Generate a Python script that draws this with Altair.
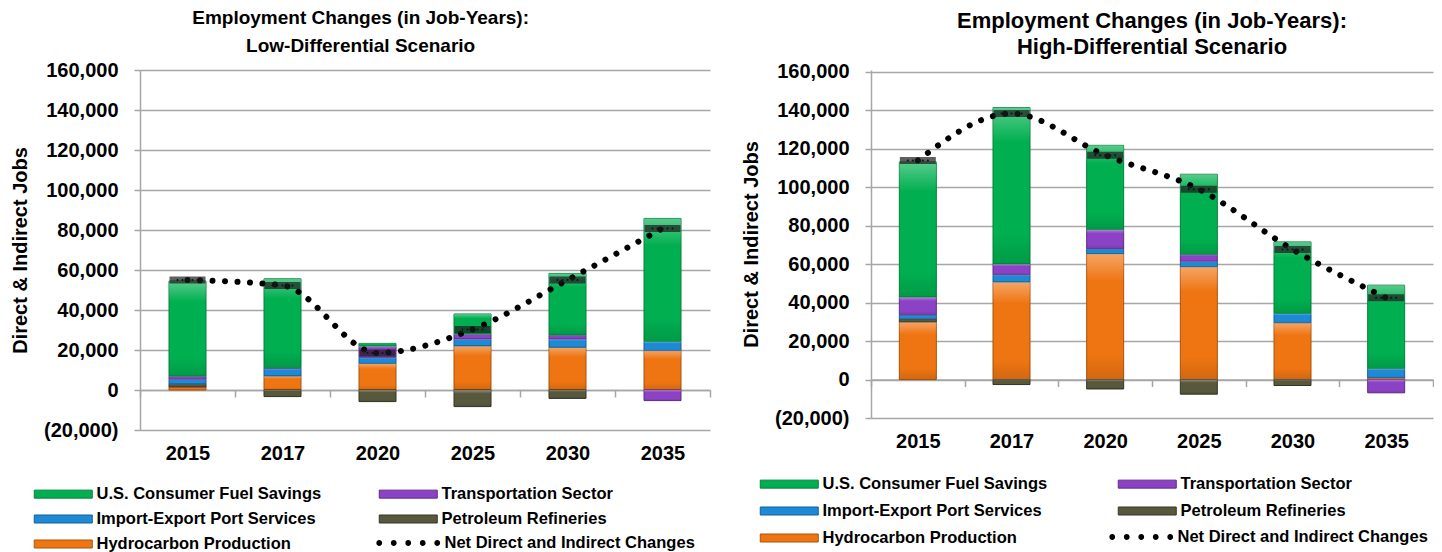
import altair as alt
import pandas as pd

FONT = "Liberation Sans"
GRID = "#a6a6a6"

years = ["2015", "2017", "2020", "2025", "2030", "2035"]

# stacking order, bottom to top
stack_series = ["Hydrocarbon Production", "Petroleum Refineries", "Import-Export Port Services",
                "Transportation Sector", "U.S. Consumer Fuel Savings"]
net_name = "Net Direct and Indirect Changes"

# legend fills column by column
legend_order = ["U.S. Consumer Fuel Savings", "Import-Export Port Services", "Hydrocarbon Production",
                "Transportation Sector", "Petroleum Refineries"]
fill_colors = ["#00b050", "#1e8ad6", "#ef7512", "#8b42c4", "#58583c"]
edge_colors = ["#05803c", "#135f98", "#a9520d", "#5e2c87", "#35352a"]

# Low-differential scenario (job-years)
low_hydro = [1500, 7000, 13300, 22000, 21300, 19700]
low_refin = [1500, -3300, -5800, -8300, -4200, 0]
low_port = [2400, 3800, 3000, 3500, 4200, 4500]
low_trans = [1500, 300, 5700, 2500, 2000, -5300]
low_cons = [47600, 44500, 1300, 10000, 30800, 61600]
low_net = [55000, 52300, 18500, 30300, 55000, 80800]

# High-differential scenario (job-years)
high_hydro = [29900, 50700, 65500, 58700, 29500, 1000]
high_refin = [1700, -2600, -4900, -7600, -3100, 0]
high_port = [2100, 3800, 2600, 2800, 4900, 4700]
high_trans = [9200, 5600, 10000, 3600, 0, -6900]
high_cons = [70300, 81400, 43750, 41700, 37200, 43400]
high_net = [114000, 138400, 116700, 99000, 67700, 42500]

tick_values = [-20000, 0, 20000, 40000, 60000, 80000, 100000, 120000, 140000, 160000]

# legend symbols (unit coordinates; symbolSize 100 -> 5 px per unit)
SWATCH_PATH = "M-5.8,-0.8H5.8V0.8H-5.8Z"
DOT_XS = [-5.8, -2.9, 0.0, 2.9, 5.8]
DOTS_PATH = "".join("M%.3f,0a0.58,0.58 0 1,0 1.16,0a0.58,0.58 0 1,0 -1.16,0" % (x - 0.58) for x in DOT_XS)


def stacked_frame(hydro, refin, port, trans, cons):
    rows = []
    for k, vals in enumerate([hydro, refin, port, trans, cons]):
        for yr, v in zip(years, vals):
            if v != 0:
                rows.append({"year": yr, "series": stack_series[k], "value": v, "ord": k})
    return pd.DataFrame(rows)


def legend_common():
    return dict(title=None, orient="none", padding=0, symbolSize=100,
                labelFont=FONT, labelFontSize=16.5, labelFontWeight="bold",
                labelColor="#000000", labelLimit=400)


def panel(title_lines, tsize, tline, tframe, toff, df, net, w, h, ymax, zero_off, xlab_pad,
          lx, ly, col_pad, row_pad, nx, ny):
    yscale = alt.Scale(domain=[-20000, ymax], nice=False, zero=False)
    xscale = alt.Scale(domain=years, paddingInner=0, paddingOuter=0)
    xaxis = alt.Axis(title=None, orient="bottom", offset=zero_off, tickBand="extent",
                     domain=True, domainColor=GRID, domainWidth=1.5,
                     ticks=True, tickColor=GRID, tickWidth=1.5, tickSize=7,
                     labelPadding=xlab_pad, labelFontSize=20, labelFont=FONT,
                     labelFontWeight="bold", labelColor="#000000", labelAngle=0, grid=False)
    yaxis = alt.Axis(values=tick_values, title="Direct & Indirect Jobs",
                     labelExpr="datum.value < 0 ? '(' + format(-datum.value, ',') + ')' : format(datum.value, ',')",
                     grid=True, gridColor=GRID, gridWidth=1.5,
                     domain=True, domainColor=GRID, domainWidth=1.5,
                     ticks=True, tickColor=GRID, tickWidth=1.5, tickSize=6,
                     labelPadding=16, labelFontSize=20, labelFont=FONT, labelFontWeight="bold",
                     labelColor="#000000", titleFontSize=20, titleFont=FONT, titleFontWeight="bold",
                     titleColor="#000000", titlePadding=13)

    X = alt.X("year:N", sort=years, scale=xscale, axis=xaxis)

    bars = alt.Chart(df).mark_bar(size=37, strokeWidth=1).encode(
        x=X,
        y=alt.Y("value:Q", scale=yscale, axis=yaxis, stack="zero"),
        color=alt.Color("series:N", scale=alt.Scale(domain=legend_order, range=fill_colors),
                        legend=alt.Legend(legendX=lx, legendY=ly, columns=2,
                                          columnPadding=col_pad, rowPadding=row_pad,
                                          symbolType=SWATCH_PATH, labelOffset=25,
                                          symbolStrokeColor="#404040", symbolStrokeWidth=1,
                                          **legend_common())),
        stroke=alt.Stroke("series:N", scale=alt.Scale(domain=legend_order, range=edge_colors), legend=None),
        order=alt.Order("ord:Q", sort="ascending"),
    )

    sheen = alt.Chart(df).mark_bar(
        size=37, strokeWidth=0,
        fill=alt.Gradient(gradient="linear", x1=0, x2=0, y1=0, y2=1, stops=[
            alt.GradientStop(color="rgba(255,255,255,0.35)", offset=0),
            alt.GradientStop(color="rgba(255,255,255,0)", offset=0.22),
            alt.GradientStop(color="rgba(0,0,0,0)", offset=0.8),
            alt.GradientStop(color="rgba(0,0,0,0.12)", offset=1)])
    ).encode(
        x=X,
        y=alt.Y("value:Q", scale=yscale, axis=yaxis, stack="zero"),
        detail="series:N",
        order=alt.Order("ord:Q", sort="ascending"),
    )

    net_df = pd.DataFrame({"year": years, "value": net, "lbl": [net_name] * len(years)})
    YN = alt.Y("value:Q", scale=yscale, axis=yaxis)
    line = alt.Chart(net_df).mark_line(
        color="#000000", strokeWidth=6, strokeDash=[0.01, 12.5], strokeCap="round",
        interpolate="monotone"
    ).encode(x=X, y=YN)
    # small points hidden under the net markers; they carry the dotted legend entry
    pts = alt.Chart(net_df).mark_point(filled=True, size=12, color="#000000", opacity=1).encode(
        x=X, y=YN,
        shape=alt.Shape("lbl:N", scale=alt.Scale(domain=[net_name], range=[DOTS_PATH]),
                        legend=alt.Legend(legendX=nx, legendY=ny, symbolFillColor="#000000",
                                          symbolStrokeWidth=0, symbolOpacity=1, labelOffset=28,
                                          **legend_common())),
    )
    marks = alt.Chart(net_df).mark_tick(color="#1c1c1c", thickness=7, size=36).encode(x=X, y=YN)

    return alt.layer(bars, sheen, pts, line, marks).properties(
        width=w, height=h,
        title=alt.TitleParams(text=title_lines, fontSize=tsize, font=FONT, fontWeight="bold",
                              color="#000000", anchor="middle", frame=tframe,
                              lineHeight=tline, offset=toff),
    )


left = panel(["Employment  Changes (in Job-Years):", "Low-Differential Scenario"], 19, 28, "bounds", 4,
             stacked_frame(low_hydro, low_refin, low_port, low_trans, low_cons), low_net,
             570, 360, 160000, -40, 46, -85, 415.75, 55, 8, 260, 464.75)
right = panel(["Employment  Changes (in Job-Years):", "High-Differential Scenario"], 22, 26, "group", 3,
              stacked_frame(high_hydro, high_refin, high_port, high_trans, high_cons), high_net,
              562, 348, 161040, -38.5, 45, -90, 405.75, 68, 10, 262, 458.75)

chart = alt.hconcat(left, right, spacing=30).resolve_scale(
    color="independent", stroke="independent", shape="independent", x="independent", y="independent"
).properties(
    padding={"left": 2, "top": 1, "right": 0, "bottom": 0}
).configure_view(stroke=None)

chart.save("out.html", embed_options={"renderer": "svg", "actions": False})
